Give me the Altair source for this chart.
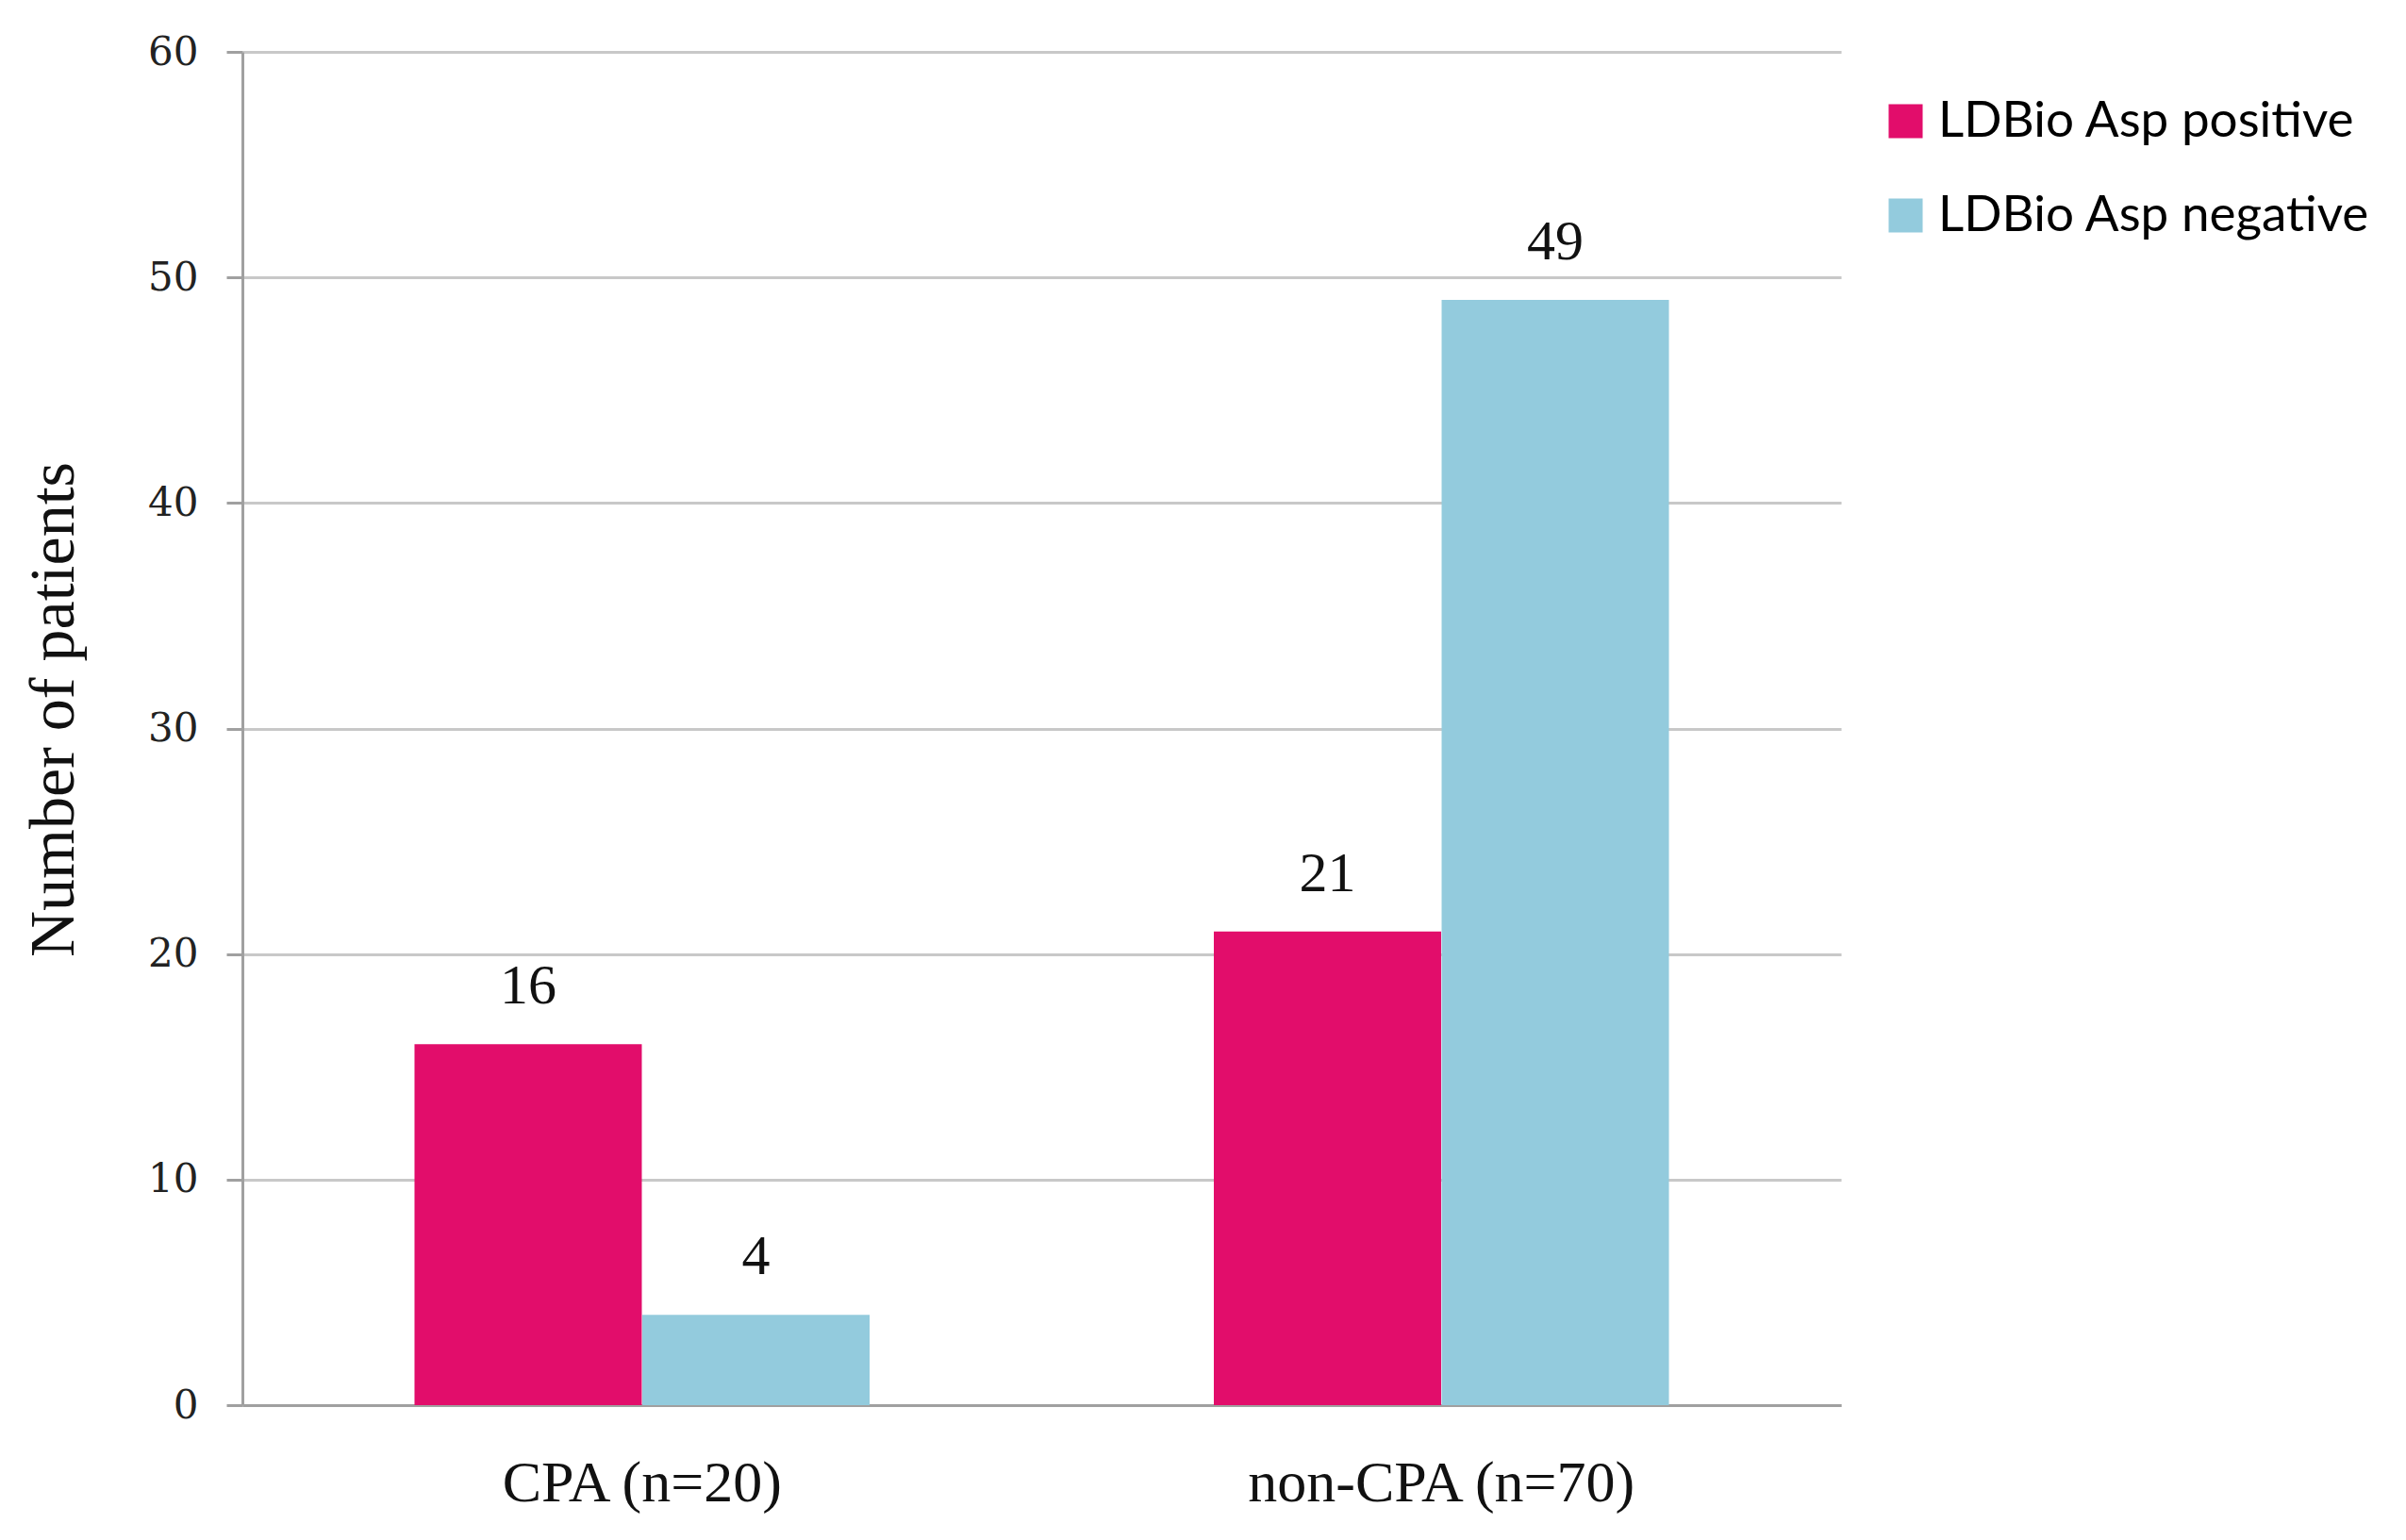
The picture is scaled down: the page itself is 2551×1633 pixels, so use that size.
import altair as alt
import pandas as pd

groups = ["CPA (n=20)", "CPA (n=20)", "non-CPA (n=70)", "non-CPA (n=70)"]
series = ["LDBio Asp positive", "LDBio Asp negative", "LDBio Asp positive", "LDBio Asp negative"]
values = [16, 4, 21, 49]

series_order = ["LDBio Asp positive", "LDBio Asp negative"]
group_order = ["CPA (n=20)", "non-CPA (n=70)"]
colors = ["#E20D6B", "#93CBDD"]
y_ticks = [0, 10, 20, 30, 40, 50, 60]

df = pd.DataFrame({"group": groups, "series": series, "value": values})

W, H = 1695, 1435

x_enc = alt.X("group:N", sort=group_order,
              scale=alt.Scale(paddingInner=0.43, paddingOuter=0.215),
              axis=alt.Axis(title=None, labelFont="Liberation Serif", labelFontSize=62,
                            labelColor="#111", ticks=False, labelPadding=52, labelLimit=1000,
                            domainColor="#A0A0A0", domainWidth=3, labelAngle=0))
xo_enc = alt.XOffset("series:N", sort=series_order, scale=alt.Scale(paddingInner=0, paddingOuter=0))
y_enc = alt.Y("value:Q", scale=alt.Scale(domain=[0, 60], nice=False),
              axis=alt.Axis(values=y_ticks, title="Number of patients",
                            titleFont="Liberation Serif", titleFontSize=68, titleFontWeight="normal",
                            titleColor="#111", titleX=-200, titleY=697, titleAngle=-90,
                            titleBaseline="middle", titleAlign="center",
                            labelFont="DejaVu Serif", labelFontSize=42, labelColor="#222",
                            labelPadding=30, tickSize=17, tickColor="#A0A0A0", tickWidth=3,
                            domainColor="#A0A0A0", domainWidth=3,
                            grid=True, gridColor="#C8C8C8", gridWidth=3))

bars = alt.Chart(df).mark_bar(size=241).encode(
    x=x_enc, xOffset=xo_enc, y=y_enc,
    color=alt.Color("series:N", sort=series_order,
                    scale=alt.Scale(domain=series_order, range=colors),
                    legend=alt.Legend(title=None, orient="none", legendX=1737, legendY=47,
                                      symbolType="square", symbolSize=1300, symbolStrokeWidth=0,
                                      labelFont="Lato", labelFontSize=53, labelColor="#000",
                                      rowPadding=46, labelOffset=8, labelLimit=600))
)

labels = alt.Chart(df).mark_text(baseline="bottom", dy=-30, font="Liberation Serif",
                                 fontSize=60, color="#111").encode(
    x=alt.X("group:N", sort=group_order), xOffset=alt.XOffset("series:N", sort=series_order),
    y="value:Q", text="value:Q"
)

chart = alt.layer(bars, labels).properties(
    width=W, height=H,
    background="white",
    autosize=alt.AutoSizeParams(type="none"),
    padding={"left": 249, "top": 47, "right": 591, "bottom": 135},
).configure_view(stroke=None)

chart.save("out.html", embed_options={"renderer": "svg", "actions": False})
